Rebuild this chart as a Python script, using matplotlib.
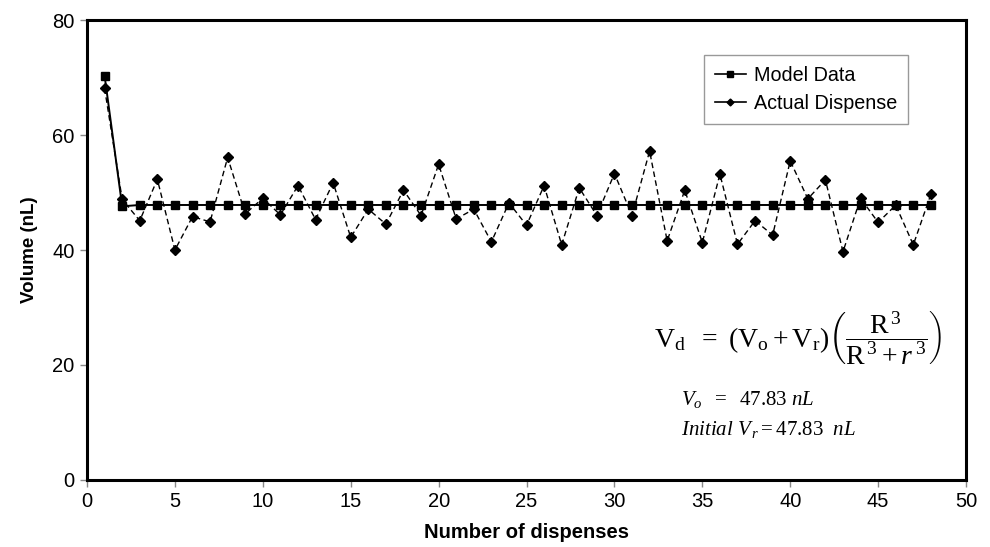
import matplotlib.pyplot as plt
from matplotlib.lines import Line2D

plt.rcParams["font.family"] = ["Liberation Sans", "DejaVu Sans"]
plt.rcParams["mathtext.fontset"] = "custom"
plt.rcParams["mathtext.rm"] = "Liberation Serif"
plt.rcParams["mathtext.it"] = "Liberation Serif:italic"

DISPENSES = list(range(1, 49))
MODEL = [70.3, 47.6] + [47.83] * 46
ACTUAL = [68.1, 48.8, 45.1, 52.3, 40.0, 45.8, 44.9, 56.1, 46.3, 49.0,
          46.1, 51.2, 45.3, 51.7, 42.2, 47.1, 44.5, 50.4, 46.0, 54.9,
          45.4, 47.1, 41.4, 48.2, 44.3, 51.2, 40.9, 50.8, 46.0, 53.3,
          46.0, 57.2, 41.6, 50.4, 41.3, 53.2, 41.0, 45.1, 42.6, 55.5,
          48.9, 52.2, 39.7, 49.0, 44.8, 47.8, 40.9, 49.7]
XTICKS = list(range(0, 51, 5))
YTICKS = [0, 20, 40, 60, 80]


def main():
    fig = plt.figure(figsize=(9.9, 5.47), dpi=100)
    ax = fig.add_axes([0.0879, 0.1225, 0.8879, 0.8409])

    ax.plot(DISPENSES, MODEL, color="black", linewidth=1.4, marker="s",
            markersize=5.5, label="Model Data")
    ax.plot(DISPENSES, ACTUAL, color="black", linewidth=1.0, linestyle=(0, (4, 2.5)),
            marker="D", markersize=5, label="Actual Dispense")

    ax.set_xlim(0, 50)
    ax.set_ylim(0, 80)
    ax.set_xticks(XTICKS)
    ax.set_yticks(YTICKS)
    for s in ax.spines.values():
        s.set_linewidth(2.2)
        s.set_color("black")
    ax.tick_params(direction="out", length=5, width=1, color="#888888",
                   labelsize=14.5, pad=4)

    ax.set_xlabel("Number of dispenses", fontsize=14.5, fontweight="bold",
                  labelpad=8)
    ax.set_ylabel("Volume (nL)", fontsize=13.5, fontweight="bold", labelpad=10)

    handles = [
        Line2D([], [], color="black", linewidth=1.2, marker="s", markersize=4),
        Line2D([], [], color="black", linewidth=1.2, marker="D", markersize=3.5),
    ]
    leg = ax.legend(handles, ["Model Data", "Actual Dispense"], loc="upper left",
                    bbox_to_anchor=(0.7015, 0.924), fontsize=14.2, fancybox=False,
                    frameon=True, handlelength=1.6, handletextpad=0.4,
                    borderpad=0.55, labelspacing=0.45, borderaxespad=0)
    leg.get_frame().set_edgecolor("#808080")
    leg.get_frame().set_linewidth(1.0)

    eq = (r"$\mathrm{V_d\ \ =\ (V_o + V_r)}"
          r"\left(\dfrac{\mathrm{R}^{\,3}}{\mathrm{R}^{\,3} + r^{\,3}}\right)$")
    ax.text(0.645, 0.31, eq, transform=ax.transAxes, fontsize=20,
            ha="left", va="center")
    ax.text(0.676, 0.175, r"$V_o\ \ =\ \ \mathrm{47.83}\ nL$", transform=ax.transAxes,
            fontsize=15, ha="left", va="center")
    ax.text(0.676, 0.11, r"$Initial\ V_{\,r} = \mathrm{47.83}\ \ nL$",
            transform=ax.transAxes, fontsize=15, ha="left", va="center")

    fig.savefig("out.png", dpi=100)


if __name__ == "__main__":
    main()
